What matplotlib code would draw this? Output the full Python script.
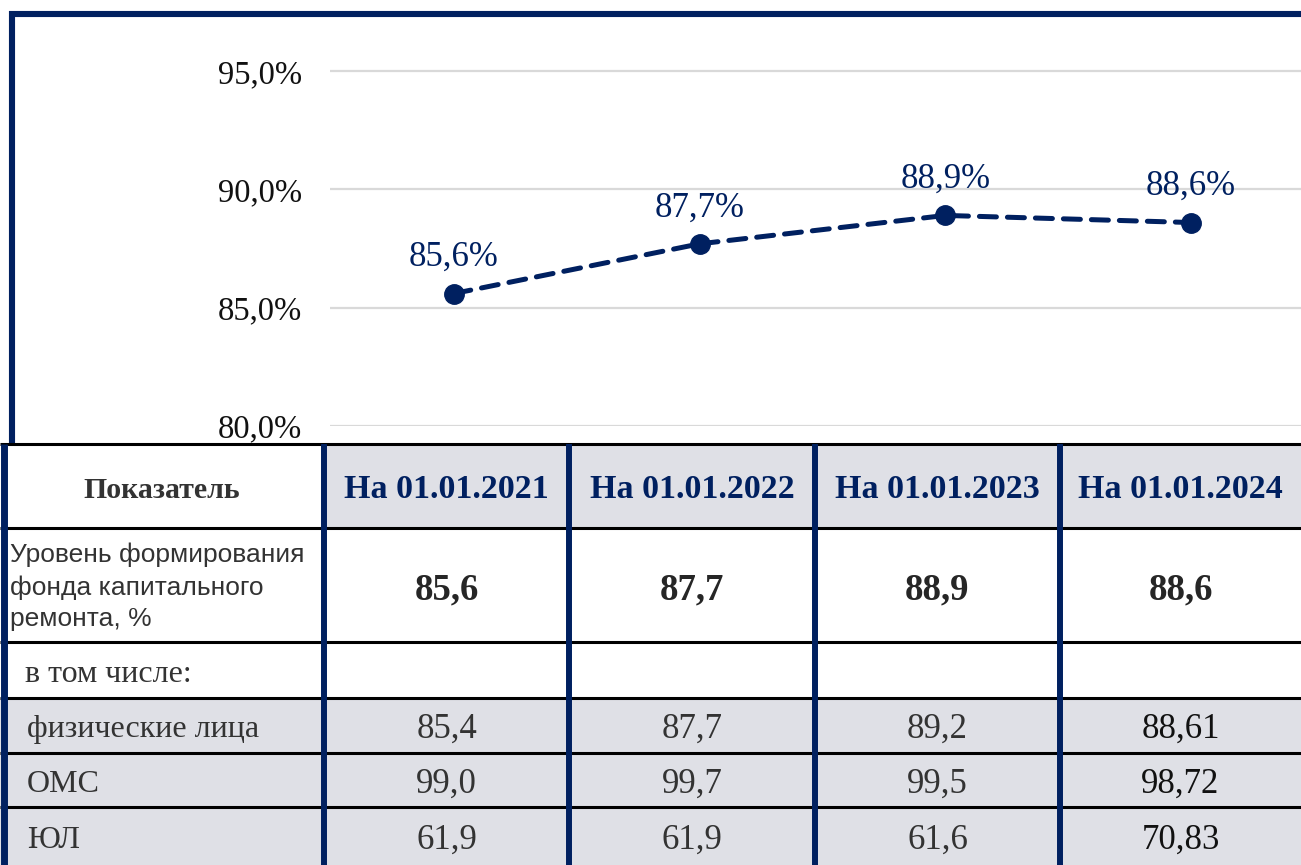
import matplotlib
matplotlib.use('Agg')
import matplotlib.pyplot as plt
from matplotlib.patches import Rectangle

# data
years = ['На 01.01.2021', 'На 01.01.2022', 'На 01.01.2023', 'На 01.01.2024']
level = [85.6, 87.7, 88.9, 88.6]
level_txt = ['85,6', '87,7', '88,9', '88,6']
yticks = [80, 85, 90, 95]
ytick_labels = ['80,0%', '85,0%', '90,0%', '95,0%']

row_labels = ['Уровень формирования\nфонда капитального\nремонта, %',
              'в том числе:', 'физические лица', 'ОМС', 'ЮЛ']
phys = ['85,4', '87,7', '89,2', '88,61']
omc = ['99,0', '99,7', '99,5', '98,72']
ul = ['61,9', '61,9', '61,6', '70,83']

NAVY = '#002060'
GREY_FILL = '#DFE0E6'
W, H = 1301, 865

fig = plt.figure(figsize=(W / 100, H / 100), dpi=100)
fig.patch.set_facecolor('white')

# ---- line chart ----
ax = fig.add_axes([330 / W, (H - 426) / H, 971 / W, 409 / H])
x = list(range(len(level)))
ax.plot(x, level, color=NAVY, lw=3.6, ls=(0, (3.4, 2.2)), dash_capstyle='round',
        marker='o', ms=14, zorder=3)
for xi, v, t in zip(x, level, level_txt):
    ax.annotate(t + '%', (xi, v), xytext=(0, 36), textcoords='offset pixels',
                ha='center', va='center', fontsize=25, color=NAVY,
                family='Liberation Serif')
ax.set_ylim(80, 80 + 409 / 23.66)
ax.set_xlim(-0.505, 3.448)
ax.set_yticks(yticks)
ax.set_yticklabels(ytick_labels, family='Liberation Serif', fontsize=23.5, color='#111111')
ax.tick_params(axis='y', length=0, pad=20)
ax.set_xticks([])
ax.grid(axis='y', color='#D9D9D9', lw=1.6)
ax.set_axisbelow(True)
for s in ax.spines.values():
    s.set_visible(False)
ax.patch.set_alpha(0)

# ---- overlay in pixel coordinates: borders and table ----
ov = fig.add_axes([0, 0, 1, 1])
ov.set_xlim(0, W)
ov.set_ylim(H, 0)
ov.axis('off')
ov.patch.set_alpha(0)

# chart frame
ov.plot([9, W], [14, 14], color=NAVY, lw=4.4, solid_capstyle='butt')
ov.plot([12, 12], [11, 446], color=NAVY, lw=4.4, solid_capstyle='butt')

col_edges = [0, 324, 569, 815, 1060, W]
row_edges = [444, 528, 642, 698, 753, 807, H]
row_fill = [None, 'white', 'white', GREY_FILL, GREY_FILL, GREY_FILL]

for r in range(len(row_edges) - 1):
    y0, y1 = row_edges[r], row_edges[r + 1]
    for c in range(len(col_edges) - 1):
        if r == 0:
            fc = 'white' if c == 0 else GREY_FILL
        else:
            fc = row_fill[r]
        ov.add_patch(Rectangle((col_edges[c], y0), col_edges[c + 1] - col_edges[c],
                               y1 - y0, facecolor=fc, edgecolor='none', zorder=1))

for y in row_edges[:-1]:
    ov.plot([0, W], [y, y], color='black', lw=2.2, zorder=2, solid_capstyle='butt')
ov.plot([3.5, 3.5], [444, H], color=NAVY, lw=5, zorder=3, solid_capstyle='butt')
for xe in col_edges[1:-1]:
    ov.plot([xe, xe], [444, H], color=NAVY, lw=4.3, zorder=3, solid_capstyle='butt')


def cmid(i, edges):
    return (edges[i] + edges[i + 1]) / 2


# header
ov.text(cmid(0, col_edges), cmid(0, row_edges) + 4, 'Показатель', ha='center', va='center',
        family='Liberation Serif', weight='bold', fontsize=21.5, color='#333333', zorder=4)
for c, t in enumerate(years):
    ov.text(cmid(c + 1, col_edges), cmid(0, row_edges) + 4, t, ha='center', va='center',
            family='Liberation Serif', weight='bold', fontsize=24.5, color=NAVY, zorder=4)

# row: main level
ov.text(10, cmid(1, row_edges) + 2, row_labels[0], ha='left', va='center',
        family='Liberation Sans', fontsize=19, color='#333333', linespacing=1.4, zorder=4)
for c, t in enumerate(level_txt):
    ov.text(cmid(c + 1, col_edges), cmid(1, row_edges) + 5, t, ha='center', va='center',
            family='Liberation Serif', weight='bold', fontsize=26.5, color='#262626', zorder=4)

# sub rows
ov.text(25, cmid(2, row_edges) + 4, row_labels[1], ha='left', va='center',
        family='Liberation Serif', fontsize=23, color='#333333', zorder=4)
for r, (lab, vals) in enumerate(zip(row_labels[2:], [phys, omc, ul])):
    ri = r + 3
    ov.text(27, cmid(ri, row_edges) + 4, lab, ha='left', va='center',
            family='Liberation Serif', fontsize=23, color='#333333', zorder=4)
    for c, t in enumerate(vals):
        ov.text(cmid(c + 1, col_edges), cmid(ri, row_edges) + 4, t, ha='center', va='center',
                family='Liberation Serif', fontsize=25,
                color='#111111' if c == 3 else '#333333', zorder=4)

fig.savefig('out.png', dpi=100)
